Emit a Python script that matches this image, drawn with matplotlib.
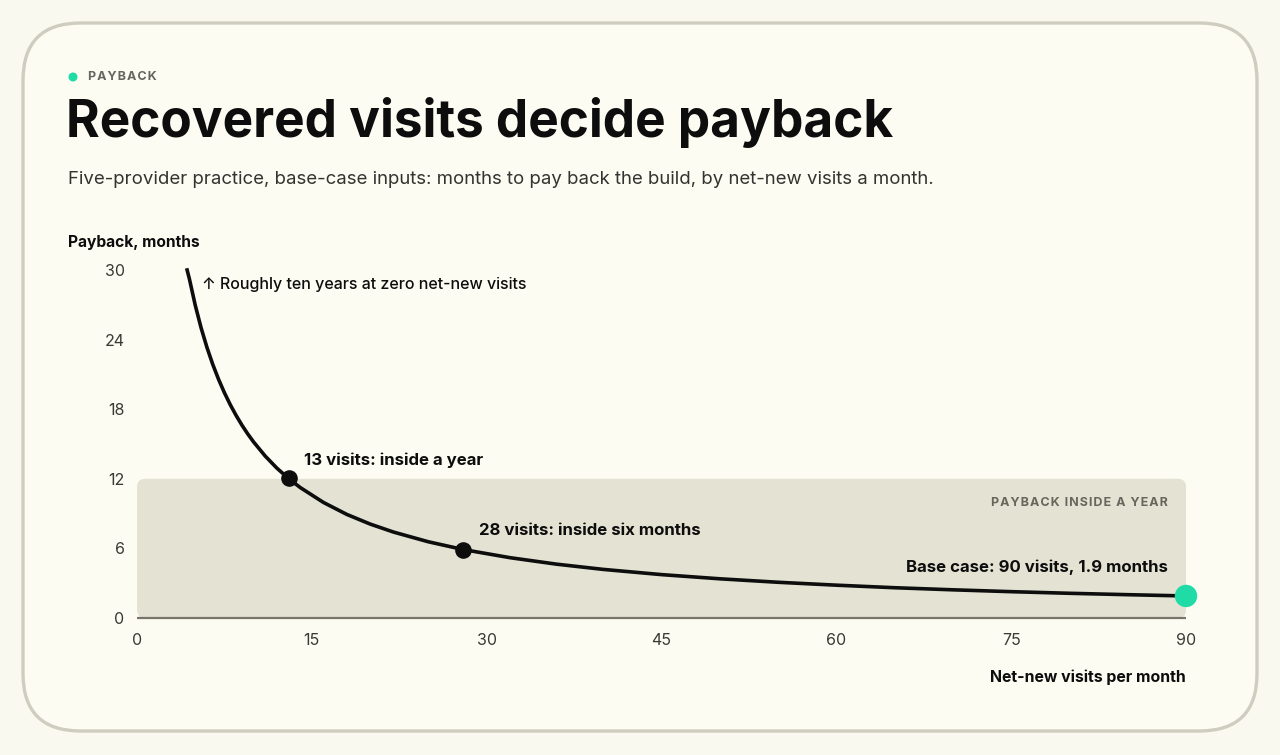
import matplotlib
matplotlib.use("Agg")
import matplotlib.pyplot as plt
from matplotlib.patches import FancyBboxPatch, Ellipse

# ---- data ----
visits = [4.3, 4.5, 5, 5.5, 6, 6.5, 7, 7.5, 8, 8.5, 9, 9.5, 10, 11, 12, 13, 14, 16, 18,
          20, 22, 25, 28, 32, 36, 40, 45, 50, 55, 60, 65, 70, 75, 80, 85, 90]
payback = [30.0, 29.21, 26.95, 25.01, 23.33, 21.86, 20.57, 19.42, 18.39, 17.47, 16.63,
           15.87, 15.18, 13.96, 12.92, 12.03, 11.25, 9.96, 8.93, 8.10, 7.41, 6.57, 5.90,
           5.20, 4.64, 4.19, 3.74, 3.38, 3.08, 2.83, 2.61, 2.43, 2.27, 2.13, 2.01, 1.90]
marked_x = [13, 28]
marked_y = [12.03, 5.90]
base_x, base_y = 90, 1.90
x_ticks = [0, 15, 30, 45, 60, 75, 90]
y_ticks = [0, 6, 12, 18, 24, 30]
band_top = 12

BG = "#fcfcf3"
INK = "#0d0d0d"
GREEN = "#1fdca6"
BAND = "#e3e2d3"
FONT = ["Inter", "DejaVu Sans"]

plt.rcParams["font.family"] = FONT

W, H = 1280, 755
fig = plt.figure(figsize=(W / 100, H / 100), dpi=100)
fig.patch.set_facecolor("#f9f9f0")

def fx(px):
    return px / W

def fy(py):
    return 1 - py / H

# card
card = FancyBboxPatch((fx(23), fy(731)), fx(1257) - fx(23), fy(23) - fy(731),
                      boxstyle="round,pad=0,rounding_size=0.045",
                      mutation_aspect=W / H,
                      transform=fig.transFigure, facecolor=BG,
                      edgecolor="#cfcdbf", linewidth=2.4, zorder=0)
fig.patches.append(card)

# header
fig.patches.append(Ellipse((fx(73), fy(77)), 9 / W, 9 / H, transform=fig.transFigure,
                           facecolor=GREEN, edgecolor="none", zorder=1))
fig.text(fx(88), fy(77), "P\u200aA\u200aY\u200aB\u200aA\u200aC\u200aK", fontsize=9, fontweight="bold",
         color="#666660", va="center", ha="left")
fig.text(fx(66), fy(123), "Recovered visits decide payback", fontsize=37,
         fontweight="bold", color=INK, va="center", ha="left")
fig.text(fx(68), fy(180),
         "Five-provider practice, base-case inputs: months to pay back the build, by net-new visits a month.",
         fontsize=13.4, color="#333330", va="center", ha="left")
fig.text(fx(68), fy(242), "Payback, months", fontsize=11.2, fontweight="bold",
         color=INK, va="center", ha="left")
fig.text(fx(1186), fy(677), "Net-new visits per month", fontsize=11.4,
         fontweight="bold", color=INK, va="center", ha="right")

# axes
ax = fig.add_axes([fx(137), fy(618), fx(1186) - fx(137), fy(270) - fy(618)])
ax.set_zorder(3)
ax.set_facecolor("none")
ax.patch.set_alpha(0)
ax.set_xlim(0, 90)
ax.set_ylim(0, 30)
for s in ax.spines.values():
    s.set_visible(False)
ax.set_xticks(x_ticks)
ax.set_yticks(y_ticks)
ax.set_xticklabels([str(v) for v in x_ticks])
ax.set_yticklabels([str(v) for v in y_ticks])
ax.tick_params(length=0, labelsize=11.5, colors="#3a3a35")
ax.tick_params(axis="x", pad=11)
ax.tick_params(axis="y", pad=9)

band = FancyBboxPatch((0, 0), 90, band_top,
                      boxstyle="round,pad=0,rounding_size=0.7",
                      facecolor=BAND, edgecolor="none", zorder=1, clip_on=False)
ax.add_patch(band)
ax.plot([0, 90], [0, 0], color="#77756a", linewidth=1.6, zorder=2, clip_on=False,
        solid_capstyle="butt")

ax.plot(visits, payback, color=INK, linewidth=2.6, zorder=3, clip_on=False,
        solid_joinstyle="round")
ax.scatter(marked_x, marked_y, s=120, color=INK, zorder=4, clip_on=False)
ax.scatter([base_x], [base_y], s=260, color=GREEN, zorder=4, clip_on=False,
           edgecolors="none")

ax.text(5.6, 28.75, "\u2191 Roughly ten years at zero net-new visits", fontsize=11.5,
        fontweight="medium", color=INK, va="center", ha="left")
ax.text(14.3, 13.6, "13 visits: inside a year", fontsize=12.1, fontweight="bold",
        color=INK, va="center", ha="left")
ax.text(29.3, 7.55, "28 visits: inside six months", fontsize=12.1, fontweight="bold",
        color=INK, va="center", ha="left")
ax.text(88.45, 4.4, "Base case: 90 visits, 1.9 months", fontsize=12.1,
        fontweight="bold", color=INK, va="center", ha="right")
ax.text(88.45, 9.95, "P\u200aA\u200aY\u200aB\u200aA\u200aC\u200aK\u2009 I\u200aN\u200aS\u200aI\u200aD\u200aE\u2009 A\u2009 Y\u200aE\u200aA\u200aR",
        fontsize=9, fontweight="bold", color="#66665c", va="center", ha="right")

fig.savefig("out.png", dpi=100, facecolor=fig.get_facecolor())
